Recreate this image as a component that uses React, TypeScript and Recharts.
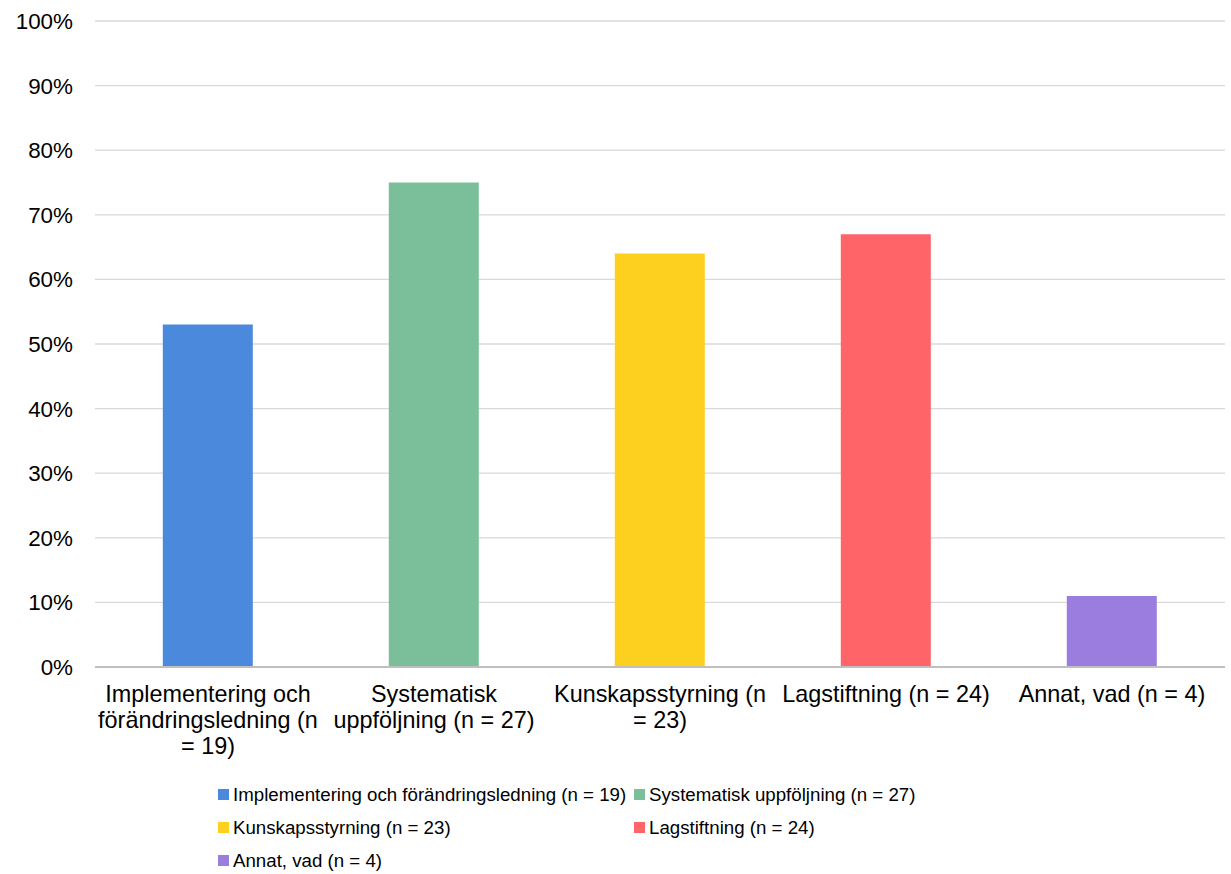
import { BarChart, Bar, Cell, CartesianGrid, XAxis, YAxis } from "recharts";

// Andel per område (%)
const KATEGORIER = [
  "Implementering och förändringsledning (n = 19)",
  "Systematisk uppföljning (n = 27)",
  "Kunskapsstyrning (n = 23)",
  "Lagstiftning (n = 24)",
  "Annat, vad (n = 4)",
];
const ANDEL = [53, 75, 64, 67, 11];
const FARGER = ["#4a89dc", "#7bbf9a", "#fdd01f", "#ff6468", "#9a7ddf"];
const Y_TICKS = [0, 10, 20, 30, 40, 50, 60, 70, 80, 90, 100];

const FONT = "'Liberation Sans', Arial, sans-serif";
const TICK_FONT_SIZE = 23.4;

const data = KATEGORIER.map((namn, i) => ({ namn, andel: ANDEL[i] }));

let ctx: CanvasRenderingContext2D | null = null;
function textBredd(s: string) {
  if (!ctx) ctx = document.createElement("canvas").getContext("2d");
  if (!ctx) return s.length * TICK_FONT_SIZE * 0.5;
  ctx.font = `${TICK_FONT_SIZE}px ${FONT}`;
  return ctx.measureText(s).width;
}

// enkel ordbrytning, som i Excel-etiketterna
function brytRader(s: string, maxBredd: number) {
  const ord = s.split(" ");
  const rader: string[] = [];
  let rad = "";
  for (const w of ord) {
    const test = rad ? `${rad} ${w}` : w;
    if (rad && textBredd(test) > maxBredd) {
      rader.push(rad);
      rad = w;
    } else {
      rad = test;
    }
  }
  if (rad) rader.push(rad);
  return rader;
}

function KategoriTick({ x, y, payload }: any) {
  const rader = brytRader(String(payload.value), 225);
  return (
    <text
      x={x}
      y={y + 16}
      textAnchor="middle"
      fontSize={TICK_FONT_SIZE}
      fontFamily={FONT}
      fill="#000"
    >
      {rader.map((r, i) => (
        <tspan key={i} x={x} dy={i === 0 ? "0.71em" : 26}>
          {r}
        </tspan>
      ))}
    </text>
  );
}

function Legend() {
  return (
    <div
      style={{
        position: "absolute",
        left: 218,
        top: 784,
        display: "grid",
        gridTemplateColumns: "416px auto",
        rowGap: 12,
        fontFamily: FONT,
        fontSize: 18.7,
        color: "#000",
        lineHeight: "21px",
      }}
    >
      {KATEGORIER.map((namn, i) => (
        <div key={namn} style={{ display: "flex", alignItems: "center", whiteSpace: "nowrap" }}>
          <span
            style={{
              display: "inline-block",
              width: 11,
              height: 11,
              background: FARGER[i],
              marginRight: 4,
            }}
          />
          {namn}
        </div>
      ))}
    </div>
  );
}

export default function App() {
  return (
    <div
      style={{
        position: "absolute",
        left: 0,
        top: 0,
        width: 1231,
        height: 874,
        background: "#fff",
        overflow: "hidden",
      }}
    >
      <BarChart
        width={1231}
        height={874}
        data={data}
        barCategoryGap="30%"
        margin={{ top: 21, right: 6, left: 0, bottom: 0 }}
      >
        <CartesianGrid vertical={false} stroke="#d9d9d9" strokeWidth={1.3} />
        <XAxis
          dataKey="namn"
          interval={0}
          tickLine={false}
          tickSize={0}
          height={207}
          axisLine={{ stroke: "#bfbfbf", strokeWidth: 2 }}
          tick={<KategoriTick />}
        />
        <YAxis
          width={95}
          domain={[0, 100]}
          ticks={Y_TICKS}
          interval={0}
          axisLine={false}
          tickLine={false}
          tickSize={6}
          tickMargin={16}
          tickFormatter={(v) => `${v}%`}
          tick={{ fontSize: 22.4, fill: "#000", fontFamily: FONT }}
        />
        <Bar dataKey="andel" isAnimationActive={false}>
          {data.map((d, i) => (
            <Cell key={d.namn} fill={FARGER[i]} />
          ))}
        </Bar>
      </BarChart>
      <Legend />
    </div>
  );
}
